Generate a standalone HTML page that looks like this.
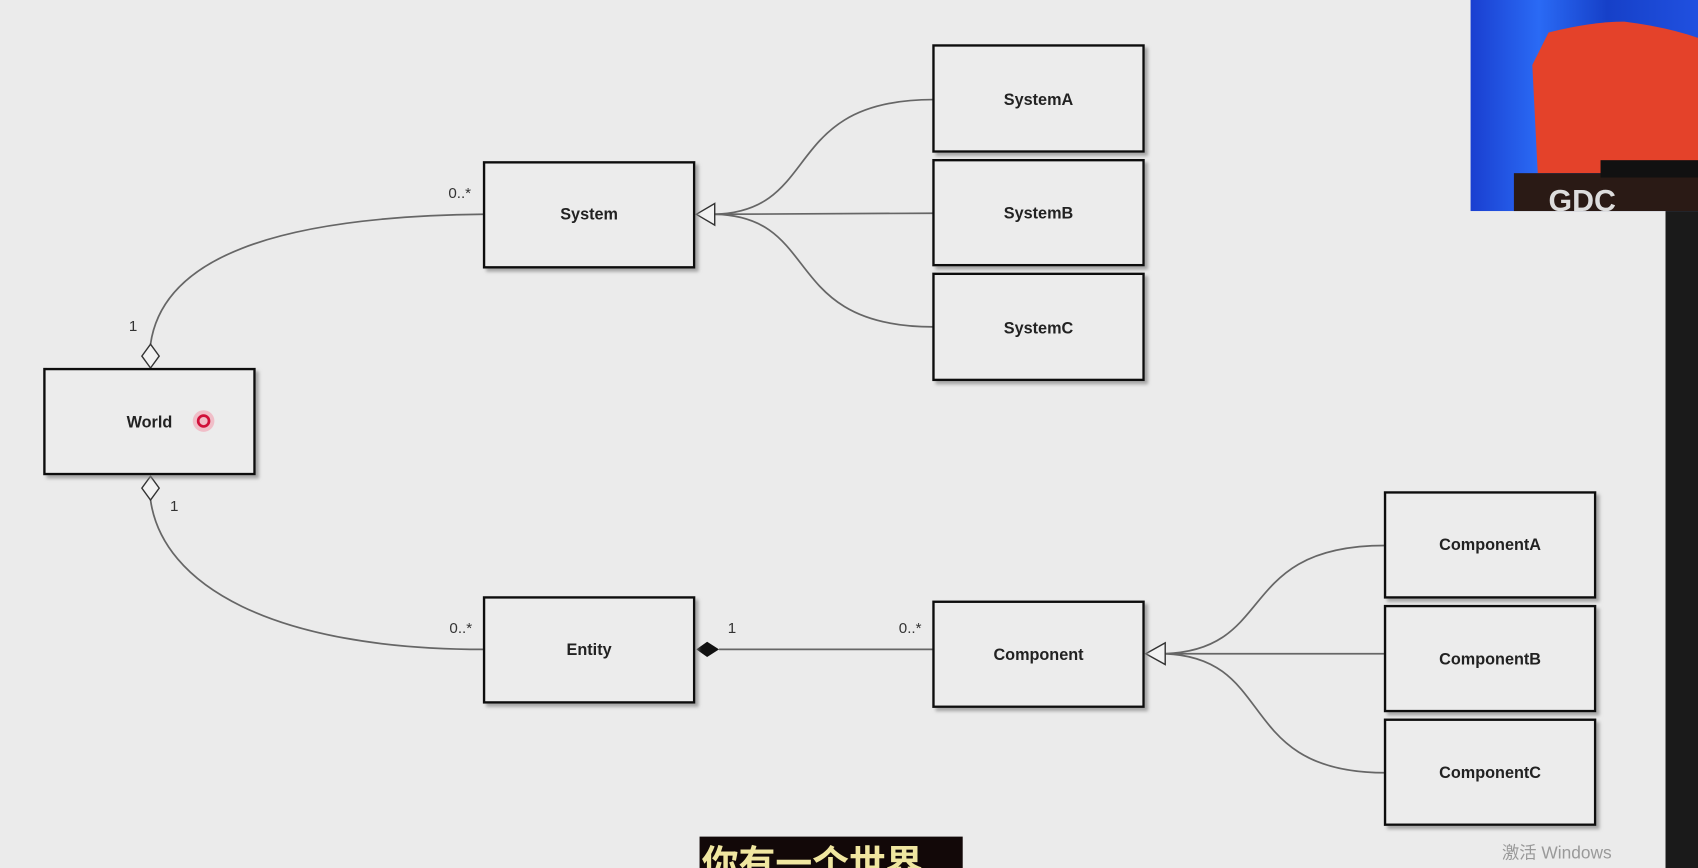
<!DOCTYPE html>
<html><head><meta charset="utf-8"><style>
html,body{margin:0;padding:0;background:#ebebeb;overflow:hidden}
svg{display:block}
text{font-family:"Liberation Sans","Noto Sans CJK SC",sans-serif}
</style></head><body>
<svg width="1698" height="868" viewBox="0 0 1568 802" preserveAspectRatio="none">
<defs>
<linearGradient id="blue" x1="0" x2="1"><stop offset="0" stop-color="#1a3fd0"/><stop offset="0.3" stop-color="#2a6af5"/><stop offset="0.6" stop-color="#1640c8"/><stop offset="1" stop-color="#2050e0"/></linearGradient>
<filter id="sh"><feDropShadow dx="3" dy="3" stdDeviation="1.5" flood-color="#888" flood-opacity="0.7"/></filter>
</defs>
<rect width="1568" height="802" fill="#ebebeb"/>
<rect x="1538" y="195" width="30" height="607" fill="#1a1a1a"/>
<g fill="none" stroke="#666" stroke-width="1.6">
<path d="M447,198 C250,200 150,240 139,318"/>
<path d="M139,462 C150,540 250,600 447,600"/>
<path d="M664,600 L862,600"/>
<path d="M660,198 C760,195 720,92 862,92"/>
<path d="M660,198 L862,197"/>
<path d="M660,198 C760,200 720,302 862,302"/>
<path d="M1076,604 C1180,600 1140,504 1279,504"/>
<path d="M1076,604 L1279,604"/>
<path d="M1076,604 C1180,608 1140,714 1279,714"/>
</g>
<polygon points="139,318 147,329 139,340 131,329" fill="#f2f2f2" stroke="#333" stroke-width="1.3"/>
<polygon points="139,440 147,451 139,462 131,451" fill="#f2f2f2" stroke="#333" stroke-width="1.3"/>
<polygon points="643,600 653,593 664,600 653,607" fill="#111"/>
<polygon points="643,198 660,188 660,208" fill="#f2f2f2" stroke="#333" stroke-width="1.3"/>
<polygon points="1058,604 1076,594 1076,614" fill="#f2f2f2" stroke="#333" stroke-width="1.3"/>
<g fill="#ececec" stroke="#111" stroke-width="2.2" filter="url(#sh)">
<rect x="41" y="341" width="194" height="97"/>
<rect x="447" y="150" width="194" height="97"/>
<rect x="862" y="42" width="194" height="98"/>
<rect x="862" y="148" width="194" height="97"/>
<rect x="862" y="253" width="194" height="98"/>
<rect x="447" y="552" width="194" height="97"/>
<rect x="862" y="556" width="194" height="97"/>
<rect x="1279" y="455" width="194" height="97"/>
<rect x="1279" y="560" width="194" height="97"/>
<rect x="1279" y="665" width="194" height="97"/>
</g>
<g font-size="15" fill="#222" text-anchor="middle" font-weight="bold">
<text x="138" y="395">World</text>
<text x="544" y="203">System</text>
<text x="959" y="97">SystemA</text>
<text x="959" y="202">SystemB</text>
<text x="959" y="308">SystemC</text>
<text x="544" y="605">Entity</text>
<text x="959" y="610">Component</text>
<text x="1376" y="508">ComponentA</text>
<text x="1376" y="614">ComponentB</text>
<text x="1376" y="719">ComponentC</text>
</g>
<g font-size="14" fill="#333">
<text x="414" y="183">0..*</text>
<text x="119" y="306">1</text>
<text x="157" y="472">1</text>
<text x="415" y="585">0..*</text>
<text x="672" y="585">1</text>
<text x="830" y="585">0..*</text>
</g>
<circle cx="188" cy="389" r="10" fill="#f4a0b0" opacity="0.6"/>
<circle cx="188" cy="389" r="5" fill="none" stroke="#d0103a" stroke-width="2.5"/>
<rect x="1358" y="0" width="210" height="195" fill="url(#blue)"/>
<path d="M1430,30 Q1470,20 1500,20 Q1540,25 1568,35 L1568,160 L1420,160 L1415,60 Z" fill="#e4422a"/>
<rect x="1398" y="160" width="170" height="35" fill="#2a1a15"/>
<rect x="1478" y="148" width="90" height="16" fill="#111"/>
<text x="1430" y="195" font-size="28" font-weight="bold" fill="#ddd">GDC</text>
<rect x="646" y="773" width="243" height="29" fill="#120808"/>
<text x="648" y="810" font-size="34" font-weight="bold" fill="#f0e6a0">你有一个世界</text>
<text x="1387" y="793" font-size="16" fill="#999">激活 Windows</text>
</svg>
</body></html>
